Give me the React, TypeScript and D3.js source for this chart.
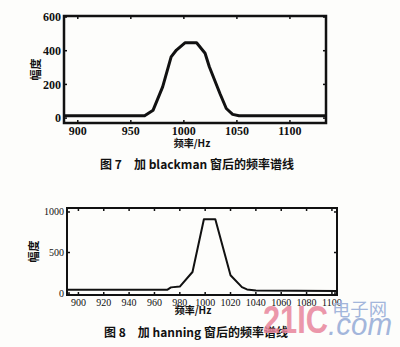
import React from "react";
import * as d3 from "d3";

// Figure 7: blackman window spectrum
const bmFreq = [887, 963, 971, 980, 988, 993, 1001, 1012, 1020, 1024, 1034, 1040, 1046, 1052, 1134];
const bmAmp = [14, 14, 47, 185, 363, 404, 447, 447, 385, 305, 146, 57, 22, 14, 14];
const bmXTicks = [900, 950, 1000, 1050, 1100];
const bmYTicks = [0, 200, 400, 600];

// Figure 8: hanning window spectrum
const hnFreq = [891, 970, 973, 980, 990, 999, 1008, 1020, 1029, 1033, 1040, 1104];
const hnAmp = [40, 40, 70, 80, 260, 910, 910, 220, 73, 45, 32, 25];
const hnXTicks = [900, 920, 940, 960, 980, 1000, 1020, 1040, 1060, 1080, 1100];
const hnYTicks = [0, 500, 1000];

const yLabel = "幅度";
const xLabel = "频率/Hz";
const caption7 = "图 7　加 blackman 窗后的频率谱线";
const caption8 = "图 8　加 hanning 窗后的频率谱线";

const serif = "'Liberation Serif', 'DejaVu Serif', serif";
const cjk = "'Noto Sans CJK SC', 'Noto Sans', sans-serif";
const sans = "'Liberation Sans', Arial, sans-serif";

type PanelProps = {
  freq: number[];
  amp: number[];
  xTicks: number[];
  yTicks: number[];
  xDomain: [number, number];
  yDomain: [number, number];
  left: number;
  right: number;
  top: number;
  bottom: number;
  lineW: number;
  boxW: number;
  tickFont: number;
  tickBold: boolean;
  yLabelX: number;
  xLabelX: number;
  xLabelY: number;
  caption: string;
  captionX: number;
  captionY: number;
};

function Panel(p: PanelProps) {
  const x = d3.scaleLinear().domain(p.xDomain).range([p.left, p.right]);
  const y = d3.scaleLinear().domain(p.yDomain).range([p.bottom, p.top]);
  const line = d3
    .line<number>()
    .x((_, i) => x(p.freq[i]))
    .y((d) => y(d))
    .curve(d3.curveLinear);
  const tl = 3;
  const cy = (p.top + p.bottom) / 2;
  return (
    <g>
      <path d={line(p.amp) || ""} fill="none" stroke="#111" strokeWidth={p.lineW} strokeLinejoin="round" />
      <rect x={p.left} y={p.top} width={p.right - p.left} height={p.bottom - p.top} fill="none" stroke="#111" strokeWidth={p.boxW} />
      {p.xTicks.map((t) => (
        <g key={"x" + t}>
          <line x1={x(t)} x2={x(t)} y1={p.bottom} y2={p.bottom - tl} stroke="#111" strokeWidth={1.5} />
          <line x1={x(t)} x2={x(t)} y1={p.top} y2={p.top + tl} stroke="#111" strokeWidth={1.5} />
          <text
            x={x(t)}
            y={p.bottom + 3}
            dy="0.75em"
            textAnchor="middle"
            fontFamily={serif}
            fontWeight={p.tickBold ? "bold" : "normal"}
            fontSize={p.tickFont}
            fill="#111"
          >
            {t}
          </text>
        </g>
      ))}
      {p.yTicks.map((t) => (
        <g key={"y" + t}>
          <line x1={p.left} x2={p.left + tl} y1={y(t)} y2={y(t)} stroke="#111" strokeWidth={1.5} />
          <line x1={p.right} x2={p.right - tl} y1={y(t)} y2={y(t)} stroke="#111" strokeWidth={1.5} />
          <text
            x={p.left - 3}
            y={y(t)}
            dy="0.35em"
            textAnchor="end"
            fontFamily={serif}
            fontWeight={p.tickBold ? "bold" : "normal"}
            fontSize={p.tickFont}
            fill="#111"
          >
            {t}
          </text>
        </g>
      ))}
      <text
        transform={`translate(${p.yLabelX},${cy}) rotate(-90)`}
        textAnchor="middle"
        dy="0.35em"
        fontFamily={cjk}
        fontWeight="bold"
        fontSize={11}
        fill="#111"
      >
        {yLabel}
      </text>
      <text
        x={p.xLabelX}
        y={p.xLabelY}
        dy="0.35em"
        textAnchor="middle"
        fontFamily={cjk}
        fontWeight="bold"
        fontSize={10}
        fill="#111"
      >
        {xLabel}
      </text>
      <text
        x={p.captionX}
        y={p.captionY}
        dy="0.35em"
        textAnchor="middle"
        fontFamily={cjk}
        fontWeight="bold"
        fontSize={12}
        fill="#111"
      >
        {p.caption}
      </text>
    </g>
  );
}

export default function App() {
  return (
    <svg
      width={400}
      height={347}
      style={{ position: "absolute", left: 0, top: 0, background: "#fdfdfb" }}
    >
      <rect width={400} height={347} fill="#fdfdfb" />
      <Panel
        freq={bmFreq}
        amp={bmAmp}
        xTicks={bmXTicks}
        yTicks={bmYTicks}
        xDomain={[887, 1134]}
        yDomain={[-29, 606]}
        left={64}
        right={326}
        top={16}
        bottom={123}
        lineW={3}
        boxW={2.5}
        tickFont={12}
        tickBold={true}
        yLabelX={36}
        xLabelX={192}
        xLabelY={143}
        caption={caption7}
        captionX={197}
        captionY={165}
      />
      <Panel
        freq={hnFreq}
        amp={hnAmp}
        xTicks={hnXTicks}
        yTicks={hnYTicks}
        xDomain={[891, 1104]}
        yDomain={[-24, 1049]}
        left={67}
        right={337}
        top={208}
        bottom={295}
        lineW={2}
        boxW={2}
        tickFont={10}
        tickBold={false}
        yLabelX={34}
        xLabelX={193}
        xLabelY={310}
        caption={caption8}
        captionX={196}
        captionY={333}
      />
      <g>
        <text x={263} y={333} fontFamily={sans} fontWeight="bold" fontSize={39} fill="#e9869c" opacity={0.85} textLength={65} lengthAdjust="spacingAndGlyphs">
          21IC
        </text>
        <text x={332} y={316} fontFamily={cjk} fontSize={18} fill="#a3b6db" textLength={55} lengthAdjust="spacingAndGlyphs">
          电子网
        </text>
        <text x={328} y={335} fontFamily={sans} fontStyle="italic" fontSize={32} fill="#a3b6db" textLength={64} lengthAdjust="spacingAndGlyphs">
          .com
        </text>
      </g>
    </svg>
  );
}
